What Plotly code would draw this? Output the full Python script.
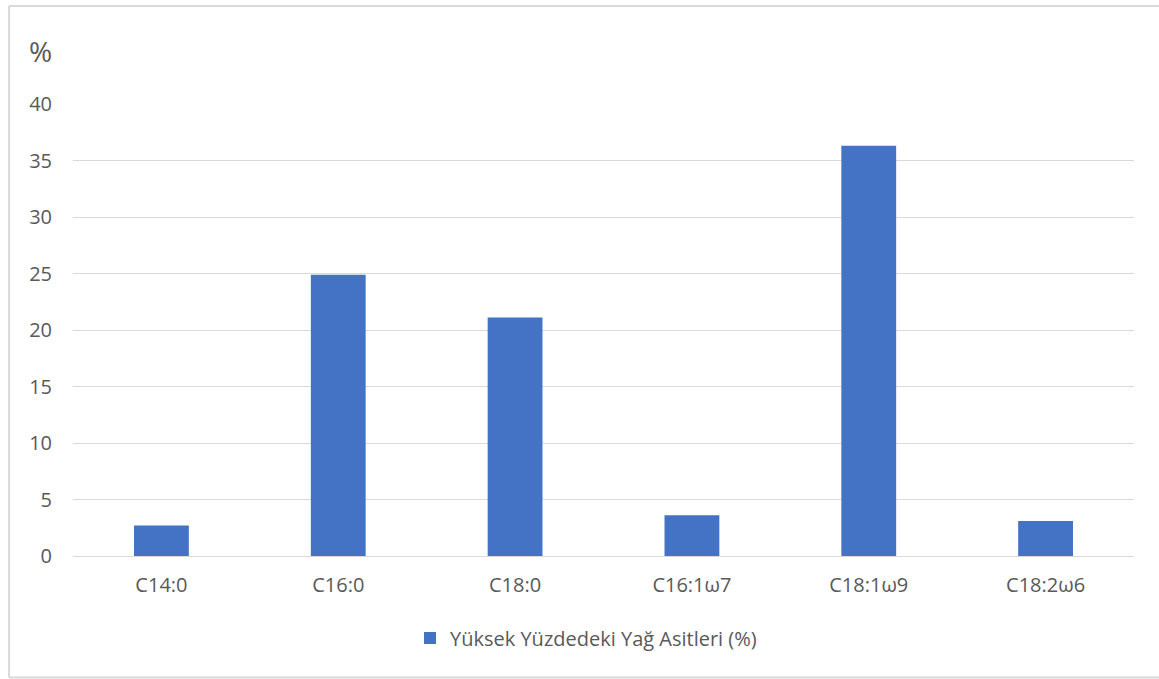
import plotly.graph_objects as go

categories = ["C14:0", "C16:0", "C18:0", "C16:1ω7", "C18:1ω9", "C18:2ω6"]
values = [2.7, 24.9, 21.1, 3.6, 36.3, 3.1]
series_name = "Yüksek Yüzdedeki Yağ Asitleri (%)"
y_ticks = [0, 5, 10, 15, 20, 25, 30, 35, 40]

W, H = 1159, 679
ml, mr, mt, mb = 72.5, 24.5, 104, 123
pw, ph = W - ml - mr, H - mt - mb

def px_x(p):
    return (p - ml) / pw

def px_y(p):
    return (H - mb - p) / ph

text_color = "#595959"
grid_color = "#D9D9D9"
font_family = "Open Sans, Noto Sans, DejaVu Sans, sans-serif"

fig = go.Figure()
fig.add_trace(go.Bar(
    x=categories, y=values, name=series_name,
    marker=dict(color="#4472C4", line=dict(width=0)),
    width=0.31, showlegend=True,
))

fig.update_layout(
    width=W, height=H,
    margin=dict(l=ml, r=mr, t=mt, b=mb, autoexpand=False),
    paper_bgcolor="white", plot_bgcolor="white",
    font=dict(family=font_family, color=text_color, size=20),
    showlegend=True,
    legend=dict(orientation="h", x=px_x(586), xanchor="center",
                y=px_y(638), yanchor="middle",
                font=dict(size=20, color=text_color),
                itemwidth=30, traceorder="normal"),
    xaxis=dict(showgrid=False, showline=True, linecolor=grid_color, linewidth=1,
               ticks="outside", ticklen=11, tickcolor="rgba(0,0,0,0)",
               tickfont=dict(size=20, color=text_color)),
    yaxis=dict(range=[0, 40], tickvals=y_ticks, showgrid=True,
               gridcolor=grid_color, gridwidth=1, zeroline=False,
               showline=False, ticks="outside", ticklen=16,
               tickcolor="rgba(0,0,0,0)",
               tickfont=dict(size=20, color=text_color)),
    bargap=0.69,
)

fig.add_annotation(text="%", xref="paper", yref="paper",
                   x=px_x(26), y=px_y(51), xanchor="left", yanchor="middle",
                   showarrow=False, font=dict(size=28, color=text_color))

border = dict(color=grid_color, width=2)
for x0, y0, x1, y1 in [(8.5, 6, 1165, 6), (8.5, 6, 8.5, 677.5), (8.5, 677.5, 1165, 677.5)]:
    fig.add_shape(type="line", xref="paper", yref="paper",
                  x0=px_x(x0), y0=px_y(y0), x1=px_x(x1), y1=px_y(y1),
                  line=border, layer="below")

fig.write_html("out.html", config={"displayModeBar": False},
               post_script="document.body.style.margin='0px';document.body.style.overflow='hidden';")
